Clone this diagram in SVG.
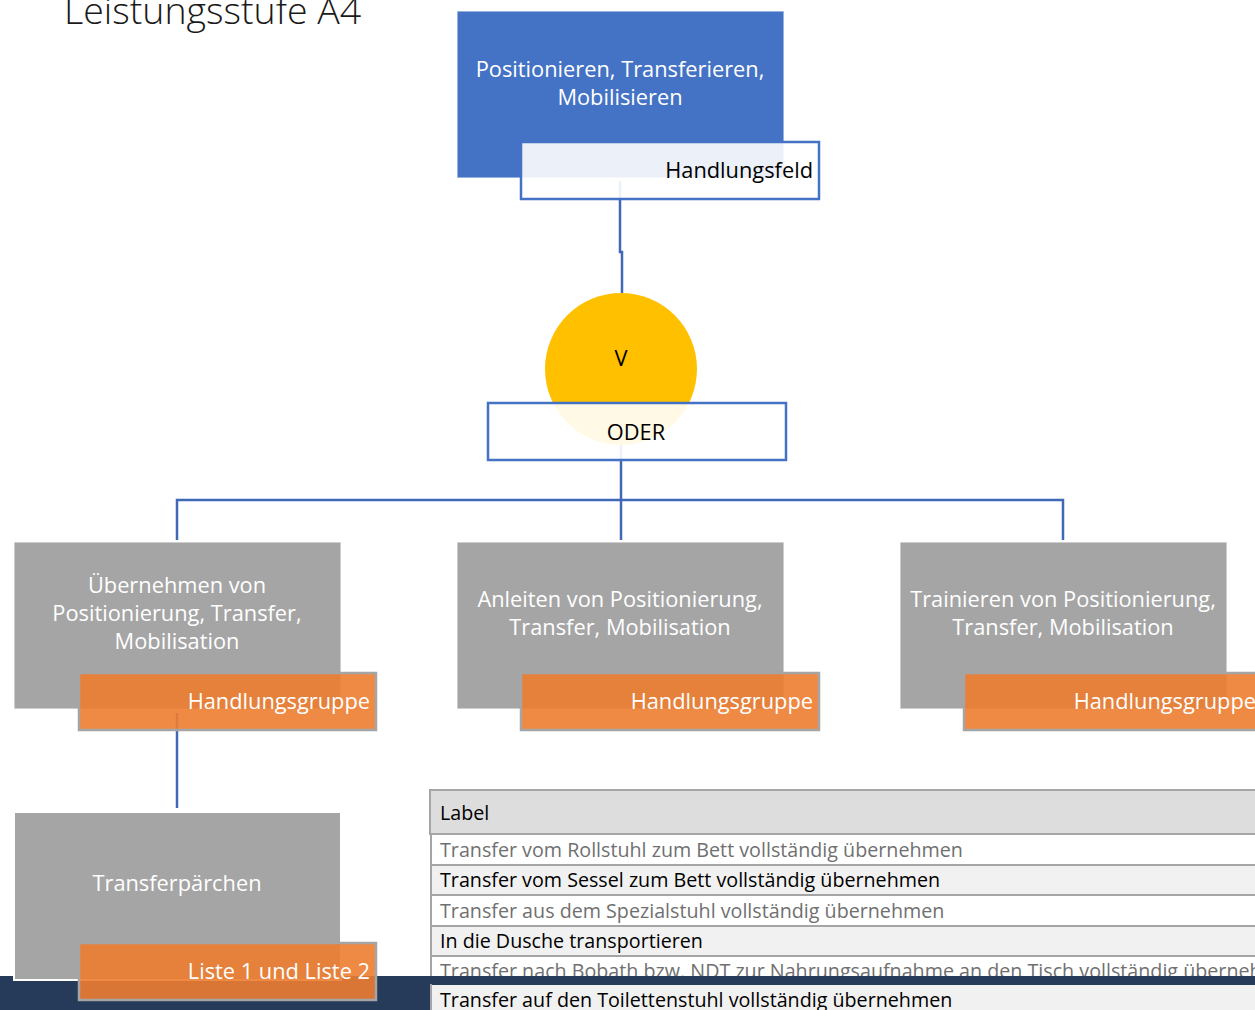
<svg xmlns="http://www.w3.org/2000/svg" width="1255" height="1010" viewBox="0 0 1255 1010">
<style>
.t{font-family:"Open Sans","Noto Sans","Liberation Sans",sans-serif;}
.wt{fill:#FFFFFF;font-size:21.8px;}
.node{stroke:#FFFFFF;stroke-opacity:0.6;stroke-width:1.5;}
.gray{fill:#A5A5A5;}
.lbl{fill:#ED7D31;fill-opacity:0.9;stroke:#A5A5A5;stroke-width:2.5;}
.conn{fill:none;stroke:#3F68B6;stroke-width:2.5;}
.row{font-size:19.7px;}
.sep{stroke:#A5A5A5;stroke-width:2;}
</style>
<rect width="1255" height="1010" fill="#FFFFFF"/>
<text class="t" x="64" y="24" font-size="37.5" font-weight="300" fill="#1A1A1A">Leistungsstufe A4</text>

<g id="connectors">
<path class="conn" d="M620,181 V252 H622 V293"/>
<path class="conn" d="M621,445 V500 M177,540 V500 H1063 V540 M621,500 V540"/>
<path class="conn" d="M177,713 V808"/>
</g>

<g id="handlungsfeld">
<rect x="457" y="11" width="327" height="167" fill="#4472C4" class="node"/>
<text class="t wt" x="620" y="77" text-anchor="middle">Positionieren, Transferieren,</text>
<text class="t wt" x="620" y="105" text-anchor="middle">Mobilisieren</text>
<rect x="521" y="142" width="298" height="57" fill="#FFFFFF" fill-opacity="0.9" stroke="#4472C4" stroke-width="2.5"/>
<text class="t" x="813" y="178" text-anchor="end" font-size="21.8" fill="#000000">Handlungsfeld</text>
</g>

<g id="oder">
<circle cx="621" cy="369" r="76" fill="#FFC000"/>
<text class="t" x="621" y="366" text-anchor="middle" font-size="21.8" fill="#000000">V</text>
<rect x="488" y="403" width="298" height="57" fill="#FFFFFF" fill-opacity="0.9" stroke="#4472C4" stroke-width="2.5"/>
<text class="t" x="636" y="440" text-anchor="middle" font-size="21.8" fill="#000000">ODER</text>
</g>

<g id="uebernehmen">
<rect x="14" y="542" width="327" height="167" class="gray node"/>
<text class="t wt" x="177" y="593" text-anchor="middle">Übernehmen von</text>
<text class="t wt" x="177" y="621" text-anchor="middle">Positionierung, Transfer,</text>
<text class="t wt" x="177" y="649" text-anchor="middle">Mobilisation</text>
<rect x="79" y="673" width="297" height="57" class="lbl"/>
<text class="t wt" x="370" y="709" text-anchor="end">Handlungsgruppe</text>
</g>

<g id="anleiten">
<rect x="457" y="542" width="327" height="167" class="gray node"/>
<text class="t wt" x="620" y="607" text-anchor="middle">Anleiten von Positionierung,</text>
<text class="t wt" x="620" y="635" text-anchor="middle">Transfer, Mobilisation</text>
<rect x="521" y="673" width="298" height="57" class="lbl"/>
<text class="t wt" x="813" y="709" text-anchor="end">Handlungsgruppe</text>
</g>

<g id="trainieren">
<rect x="900" y="542" width="327" height="167" class="gray node"/>
<text class="t wt" x="1063" y="607" text-anchor="middle">Trainieren von Positionierung,</text>
<text class="t wt" x="1063" y="635" text-anchor="middle">Transfer, Mobilisation</text>
<rect x="964" y="673" width="298" height="57" class="lbl"/>
<text class="t wt" x="1256" y="709" text-anchor="end">Handlungsgruppe</text>
</g>

<g id="table">
<rect x="430" y="790" width="830" height="44" fill="#DDDDDD" stroke="#A5A5A5" stroke-width="2"/>
<text class="t row" x="440" y="820" fill="#000000">Label</text>
<rect x="430" y="835" width="830" height="29" fill="#FFFFFF"/>
<rect x="430" y="865" width="830" height="29" fill="#F1F1F1"/>
<rect x="430" y="895" width="830" height="30" fill="#FFFFFF"/>
<rect x="430" y="926" width="830" height="29" fill="#F1F1F1"/>
<rect x="430" y="956" width="830" height="29" fill="#FFFFFF"/>
<line class="sep" x1="430" y1="865" x2="1260" y2="865"/>
<line class="sep" x1="430" y1="895" x2="1260" y2="895"/>
<line class="sep" x1="430" y1="926" x2="1260" y2="926"/>
<line class="sep" x1="430" y1="956" x2="1260" y2="956"/>
<line class="sep" x1="431" y1="834" x2="431" y2="1010"/>
<text class="t row" x="440" y="857" fill="#707070">Transfer vom Rollstuhl zum Bett vollständig übernehmen</text>
<text class="t row" x="440" y="887" fill="#000000">Transfer vom Sessel zum Bett vollständig übernehmen</text>
<text class="t row" x="440" y="918" fill="#707070">Transfer aus dem Spezialstuhl vollständig übernehmen</text>
<text class="t row" x="440" y="948" fill="#000000">In die Dusche transportieren</text>
<text class="t row" x="440" y="978" fill="#707070">Transfer nach Bobath bzw. NDT zur Nahrungsaufnahme an den Tisch vollständig übernehmen</text>
</g>

<rect x="0" y="976" width="1255" height="34" fill="#253B59"/>

<g id="table-last-row">
<rect x="432" y="985" width="828" height="25" fill="#F1F1F1"/>
<line class="sep" x1="431" y1="984" x2="431" y2="1010"/>
<text class="t row" x="440" y="1007" fill="#000000">Transfer auf den Toilettenstuhl vollständig übernehmen</text>
</g>

<g id="transferpaerchen">
<rect x="14" y="812" width="327" height="168" class="gray" stroke="#FFFFFF" stroke-width="2"/>
<text class="t wt" x="177" y="891" text-anchor="middle">Transferpärchen</text>
<rect x="79" y="943" width="297" height="57" class="lbl"/>
<text class="t wt" x="370" y="979" text-anchor="end">Liste 1 und Liste 2</text>
</g>
</svg>
